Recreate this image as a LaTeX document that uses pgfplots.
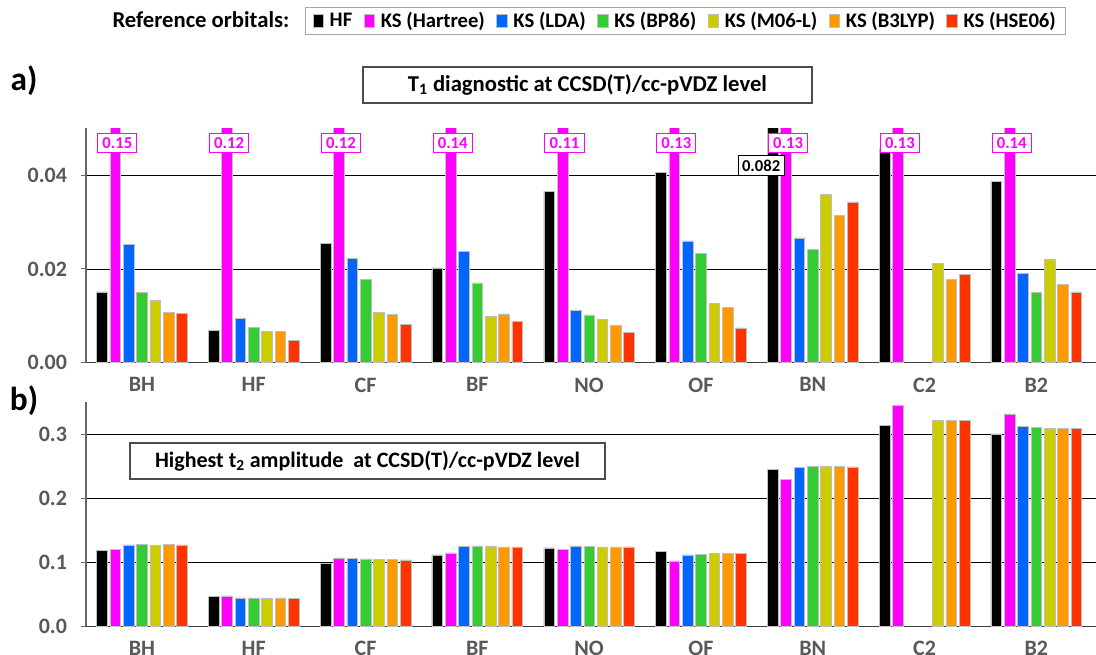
\documentclass[border=0pt]{standalone}
\usepackage{fontspec}
\setmainfont{Carlito}
\usepackage{pgfplots}
\pgfplotsset{compat=1.18}
\usepackage{pgfplotstable}

\definecolor{cHF}{HTML}{000000}
\definecolor{cHar}{HTML}{FF00FF}
\definecolor{cLDA}{HTML}{0066FF}
\definecolor{cBP}{HTML}{33CC33}
\definecolor{cM06}{HTML}{CCCC00}
\definecolor{cB3}{HTML}{FF9900}
\definecolor{cHSE}{HTML}{FF3300}
\definecolor{tgray}{HTML}{595959}

\pgfplotstableread{
g HF Har LDA BP86 M06L B3LYP HSE
0 0.0151 0.15 0.0253 0.0150 0.0133 0.0107 0.0105
1 0.0069 0.12 0.0095 0.0075 0.0067 0.0066 0.0047
2 0.0255 0.12 0.0223 0.0177 0.0107 0.0103 0.0081
3 0.0202 0.14 0.0238 0.0170 0.0099 0.0104 0.0088
4 0.0366 0.11 0.0111 0.0102 0.0093 0.0079 0.0065
5 0.0406 0.13 0.0260 0.0233 0.0127 0.0118 0.0074
6 0.082  0.13 0.0266 0.0241 0.0359 0.0315 0.0343
7 0.0456 0.13 nan    nan    0.0212 0.0177 0.0189
8 0.0387 0.14 0.0191 0.0150 0.0220 0.0167 0.0151
}\tone

\pgfplotstableread{
g HF Har LDA BP86 M06L B3LYP HSE
0 0.1186 0.1201 0.1269 0.1284 0.1270 0.1280 0.1270
1 0.0468 0.0473 0.0442 0.0442 0.0442 0.0442 0.0437
2 0.0978 0.1066 0.1060 0.1050 0.1045 0.1045 0.1035
3 0.1113 0.1144 0.1248 0.1253 0.1253 0.1238 0.1238
4 0.1222 0.1201 0.1253 0.1248 0.1238 0.1238 0.1238
5 0.1165 0.1019 0.1113 0.1123 0.1139 0.1139 0.1139
6 0.2444 0.2293 0.2475 0.2496 0.2496 0.2490 0.2486
7 0.3131 0.3453 nan    nan    0.3209 0.3209 0.3209
8 0.3001 0.3313 0.3125 0.3110 0.3089 0.3089 0.3094
}\ttwo

\pgfplotsset{
  mybars/.style={
    scale only axis, width=757.5pt,
    xmin=-0.5, xmax=8.534, ymin=0,
    ybar, bar width=0.0954,
    axis x line*=bottom, axis y line*=left,
    axis line style={-},
    x axis line style={draw=black!75, line width=0.8pt},
    y axis line style={draw=black!60, line width=0.8pt},
    xtick={0,...,8},
    xticklabels={BH,HF,CF,BF,NO,OF,BN,C2,B2},
    major x tick style={draw=none},
    tick align=outside,
    y tick style={draw=black!60, line width=0.8pt},
    major tick length=3.75pt,
    ymajorgrids, grid style={black, line width=0.6pt},
    scaled y ticks=false,
    ticklabel style={font=\fontsize{16.5}{19}\selectfont\bfseries, text=tgray},
    xticklabel style={yshift=-4pt},
    yticklabel style={xshift=-7pt},
    /pgf/number format/assume math mode=true,
    every axis plot/.append style={draw=black!25, line width=0.4pt},
  },
  s1/.style={fill=cHF, bar shift=-0.3576},
  s2/.style={fill=cHar, bar shift=-0.2384},
  s3/.style={fill=cLDA, bar shift=-0.1192},
  s4/.style={fill=cBP, bar shift=0},
  s5/.style={fill=cM06, bar shift=0.1192},
  s6/.style={fill=cB3, bar shift=0.2384},
  s7/.style={fill=cHSE, bar shift=0.3576},
}

\begin{document}
\begin{tikzpicture}
% top axis
\begin{axis}[mybars,
  at={(64.5pt,-272pt)}, anchor=south west,
  height=175.8pt, ymax=0.05,
  ytick={0,0.02,0.04},
  yticklabel style={/pgf/number format/fixed, /pgf/number format/fixed zerofill, /pgf/number format/precision=2},
  legend columns=7,
  legend style={at={(0.5936,1.458)}, anchor=center, draw=black!35, line width=0.8pt,
    font=\fontsize{15.5}{17}\selectfont\bfseries,
    /tikz/every odd column/.append style={column sep=2.5pt},
    /tikz/every even column/.append style={column sep=6.5pt},
    inner ysep=1.5pt, inner xsep=5pt},
  legend image code/.code={\fill[#1] (0pt,-5pt) rectangle (8pt,5pt);},
]
\addplot[s1] table[x=g,y=HF]{\tone};
\addplot[s2] table[x=g,y=Har]{\tone};
\addplot[s3] table[x=g,y=LDA]{\tone};
\addplot[s4] table[x=g,y=BP86]{\tone};
\addplot[s5] table[x=g,y=M06L]{\tone};
\addplot[s6] table[x=g,y=B3LYP]{\tone};
\addplot[s7] table[x=g,y=HSE]{\tone};
\legend{HF,KS (Hartree),KS (LDA),KS (BP86),KS (M06-L),KS (B3LYP),KS (HSE06)}
\tikzset{mlab/.style={draw=cHar, line width=0.8pt, fill=white, text=cHar, font=\fontsize{12.5}{14}\selectfont\bfseries, inner xsep=3.5pt, inner ysep=3pt}}
\node[mlab] at (axis cs:-0.22,0.0468) {0.15};
\node[mlab] at (axis cs:0.78,0.0468) {0.12};
\node[mlab] at (axis cs:1.78,0.0468) {0.12};
\node[mlab] at (axis cs:2.78,0.0468) {0.14};
\node[mlab] at (axis cs:3.78,0.0468) {0.11};
\node[mlab] at (axis cs:4.78,0.0468) {0.13};
\node[mlab] at (axis cs:5.78,0.0468) {0.13};
\node[mlab] at (axis cs:6.78,0.0468) {0.13};
\node[mlab] at (axis cs:7.78,0.0468) {0.14};
\node[draw=black, line width=0.8pt, fill=white, font=\fontsize{12.5}{14}\selectfont\bfseries, inner xsep=3pt, inner ysep=3pt] at (axis cs:5.539,0.042) {0.082};
\end{axis}
% bottom axis
\begin{axis}[mybars,
  at={(64.5pt,-469.7pt)}, anchor=south west,
  height=168.2pt, ymax=0.35,
  ytick={0,0.1,0.2,0.3},
  yticklabel style={/pgf/number format/fixed, /pgf/number format/fixed zerofill, /pgf/number format/precision=1},
]
\addplot[s1] table[x=g,y=HF]{\ttwo};
\addplot[s2] table[x=g,y=Har]{\ttwo};
\addplot[s3] table[x=g,y=LDA]{\ttwo};
\addplot[s4] table[x=g,y=BP86]{\ttwo};
\addplot[s5] table[x=g,y=M06L]{\ttwo};
\addplot[s6] table[x=g,y=B3LYP]{\ttwo};
\addplot[s7] table[x=g,y=HSE]{\ttwo};
\end{axis}
% annotations
\node[font=\fontsize{25}{28}\selectfont\bfseries] at (18pt,-60.75pt) {a)};
\node[font=\fontsize{25}{28}\selectfont\bfseries] at (18pt,-300.75pt) {b)};
\node[font=\fontsize{17}{20}\selectfont\bfseries] at (150.75pt,-15pt) {Reference orbitals:};
\node[draw=black!70, line width=0.8pt, fill=white, minimum width=336.75pt, minimum height=27pt, font=\fontsize{17}{20}\selectfont\bfseries] at (440.6pt,-63.75pt) {T\textsubscript{1} diagnostic at CCSD(T)/cc-pVDZ level};
\node[draw=black!70, line width=0.8pt, fill=white, minimum width=356.25pt, minimum height=27pt, font=\fontsize{16.5}{19}\selectfont\bfseries] at (275.6pt,-345.75pt) {Highest t\textsubscript{2} amplitude\ \ at CCSD(T)/cc-pVDZ level};
\pgfresetboundingbox
\path (0pt,0pt) rectangle (822pt,-490.5pt);
\end{tikzpicture}
\end{document}
